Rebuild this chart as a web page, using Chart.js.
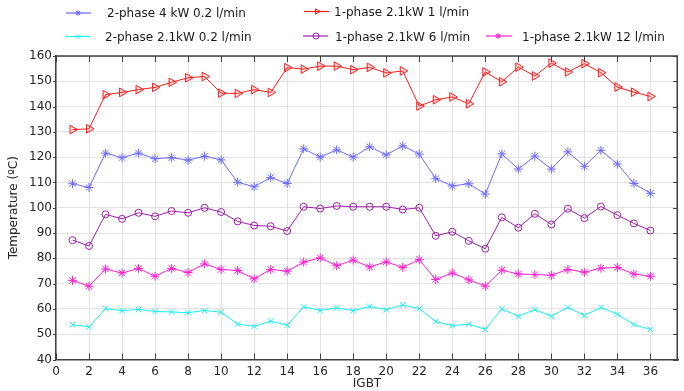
<!DOCTYPE html>
<html>
<head>
<meta charset="utf-8">
<script src="https://cdn.jsdelivr.net/npm/chart.js@4.4.1/dist/chart.umd.min.js"></script>
<style>
  html, body { margin: 0; padding: 0; background: #ffffff; }
  canvas { display: block; }
</style>
</head>
<body>
<canvas id="chart" width="684" height="391"></canvas>
<script>
// IGBT index along the module
const igbt = [1,2,3,4,5,6,7,8,9,10,11,12,13,14,15,16,17,18,19,20,21,22,23,24,25,26,27,28,29,30,31,32,33,34,35,36];

// Even tick labels on the IGBT axis
const igbtTicks = [0,2,4,6,8,10,12,14,16,18,20,22,24,26,28,30,32,34,36];

// Junction temperatures (ºC) per configuration
const twoPhase4kW = [109.5,108.0,121.6,119.8,121.6,119.4,119.8,118.8,120.4,118.9,110.1,108.3,112.0,109.6,123.3,120.0,122.9,120.0,124.1,120.9,124.5,121.2,111.5,108.6,109.5,105.4,121.3,115.3,120.4,115.3,122.1,116.4,122.7,117.3,109.6,105.7];
const twoPhase21kW = [53.8,52.9,60.1,59.3,59.8,59.0,58.8,58.5,59.4,58.7,54.0,53.1,55.2,53.5,60.8,59.4,60.4,59.3,61.0,59.7,61.6,60.1,55.0,53.4,53.9,51.9,60.0,57.1,59.7,57.1,60.6,57.4,60.6,57.9,53.8,51.9];
const onePhase1lpm = [130.9,131.2,144.7,145.6,146.7,147.6,149.6,151.4,151.9,145.3,145.2,146.7,145.6,155.4,154.8,156.0,156.0,154.6,155.5,153.3,154.1,140.2,142.7,143.8,141.1,153.7,149.8,155.6,152.1,157.2,153.7,157.0,153.4,147.7,145.7,144.0];
const onePhase6lpm = [87.2,84.9,97.4,95.6,98.0,96.6,98.7,98.0,100.0,98.3,94.6,93.0,92.7,90.8,100.4,99.7,100.7,100.4,100.4,100.4,99.3,100.0,88.9,90.5,86.9,83.8,96.2,92.1,97.6,93.4,99.6,95.9,100.5,97.1,93.8,91.0];
const onePhase12lpm = [71.3,69.0,75.8,74.2,76.0,72.9,76.0,74.4,77.8,75.6,75.2,71.9,75.6,74.9,78.5,80.2,77.1,79.3,76.6,78.6,76.4,79.5,71.6,74.2,71.5,69.0,75.3,73.8,73.6,73.3,75.6,74.5,76.1,76.4,73.8,72.9];

const seriesNames = [
  '2-phase 4 kW 0.2 l/min',
  '2-phase 2.1kW 0.2 l/min',
  '1-phase 2.1kW 1 l/min',
  '1-phase 2.1kW 6 l/min',
  '1-phase 2.1kW 12 l/min'
];

const toPoints = vals => vals.map((v, i) => ({ x: igbt[i], y: v }));

Chart.defaults.font.family = '"DejaVu Sans", sans-serif';
Chart.defaults.font.size = 12;
Chart.defaults.color = '#262626';

const AXIS_COLOR = '#404040';

function series(label, values, color, style, extra) {
  return Object.assign({
    label: label,
    data: toPoints(values),
    borderColor: color,
    backgroundColor: 'rgba(0,0,0,0)',
    borderWidth: 1,
    pointStyle: style,
    pointRadius: 4.5,
    pointBorderColor: color,
    pointBackgroundColor: 'rgba(0,0,0,0)',
    pointBorderWidth: 1,
    tension: 0
  }, extra || {});
}

const datasets = [
  series(seriesNames[0], twoPhase4kW, '#6b6bff', 'star'),
  series(seriesNames[1], twoPhase21kW, '#19f0f0', 'crossRot', { pointRadius: 4 }),
  series(seriesNames[2], onePhase1lpm, '#ff1a1a', 'triangle', { pointRotation: 90, pointRadius: 5, pointBackgroundColor: 'rgba(255,60,60,0.15)' }),
  series(seriesNames[3], onePhase6lpm, '#9c1fa8', 'circle', { pointRadius: 3.5 }),
  series(seriesNames[4], onePhase12lpm, '#ff1fd2', 'star')
];

// Box outline (top and right) plus tick marks on all four sides
const axesFrame = {
  id: 'axesFrame',
  afterDatasetsDraw(chart) {
    const { ctx, chartArea: a, scales: { x, y } } = chart;
    ctx.save();
    ctx.strokeStyle = AXIS_COLOR;
    ctx.lineWidth = 1.5;
    ctx.beginPath();
    ctx.moveTo(a.left, a.top);
    ctx.lineTo(a.right - 0.75, a.top);
    ctx.lineTo(a.right - 0.75, a.bottom);
    ctx.stroke();
    ctx.lineWidth = 1;
    ctx.beginPath();
    igbtTicks.forEach(v => {
      const px = Math.round(x.getPixelForValue(v)) + 0.5;
      ctx.moveTo(px, a.bottom); ctx.lineTo(px, a.bottom - 6);
      ctx.moveTo(px, a.top); ctx.lineTo(px, a.top + 6);
    });
    for (let v = 40; v <= 160; v += 10) {
      const py = Math.round(y.getPixelForValue(v)) + 0.5;
      ctx.moveTo(a.left - 3, py); ctx.lineTo(a.left, py);
      ctx.moveTo(a.right, py); ctx.lineTo(a.right - 5, py);
    }
    ctx.stroke();
    ctx.restore();
  }
};

// Two-row legend across the top of the figure
const legendRows = [
  { ds: 0, x0: 66, x1: 91, mx: 78, y: 13, tx: 107, ty: 17 },
  { ds: 2, x0: 304, x1: 329, mx: 317, y: 11.5, tx: 334, ty: 16 },
  { ds: 1, x0: 65, x1: 90, mx: 78, y: 36.5, tx: 105, ty: 41 },
  { ds: 3, x0: 303, x1: 328, mx: 316, y: 36, tx: 335, ty: 40.5 },
  { ds: 4, x0: 486, x1: 512, mx: 498, y: 36, tx: 522, ty: 40.5 }
];

const topLegend = {
  id: 'topLegend',
  afterDraw(chart) {
    const ctx = chart.ctx;
    ctx.save();
    legendRows.forEach(item => {
      const d = chart.data.datasets[item.ds];
      ctx.strokeStyle = d.borderColor;
      ctx.lineWidth = 1.2;
      ctx.beginPath();
      ctx.moveTo(item.x0, item.y);
      ctx.lineTo(item.x1, item.y);
      ctx.stroke();
      ctx.fillStyle = d.pointBackgroundColor;
      ctx.lineWidth = 1;
      Chart.helpers.drawPoint(ctx, {
        pointStyle: d.pointStyle,
        rotation: d.pointRotation || 0,
        radius: 3,
        borderWidth: 1
      }, item.mx, item.y);
      ctx.fillStyle = '#1a1a1a';
      ctx.font = '12px "DejaVu Sans", sans-serif';
      ctx.textBaseline = 'alphabetic';
      ctx.textAlign = 'left';
      ctx.fillText(d.label, item.tx, item.ty);
    });
    ctx.restore();
  }
};

new Chart(document.getElementById('chart'), {
  type: 'line',
  data: { datasets: datasets },
  options: {
    responsive: false,
    animation: false,
    layout: { padding: { top: 56, right: 0, left: 0, bottom: 0 } },
    plugins: {
      legend: { display: false },
      tooltip: { enabled: false }
    },
    scales: {
      x: {
        type: 'linear',
        min: 0,
        max: 37.67,
        afterBuildTicks: scale => { scale.ticks = igbtTicks.map(v => ({ value: v })); },
        afterFit: scale => { scale.height = 31.5; },
        ticks: { padding: 5, color: '#262626', maxRotation: 0, autoSkip: false },
        grid: { color: '#e2e2e2', lineWidth: 1, drawTicks: false },
        border: { display: true, color: AXIS_COLOR, width: 1.5 },
        title: { display: true, text: 'IGBT', color: '#262626', font: { size: 12 }, padding: { top: 0, bottom: 0 } }
      },
      y: {
        min: 40,
        max: 160,
        afterFit: scale => { scale.width = 56; },
        ticks: { stepSize: 10, padding: 4, color: '#262626' },
        grid: { color: '#e2e2e2', lineWidth: 1, drawTicks: false },
        border: { display: true, color: AXIS_COLOR, width: 1.5 },
        title: { display: true, text: 'Temperature (ºC)', color: '#262626', font: { size: 12 }, padding: { top: 7, bottom: 0 } }
      }
    }
  },
  plugins: [axesFrame, topLegend]
});
</script>
</body>
</html>
